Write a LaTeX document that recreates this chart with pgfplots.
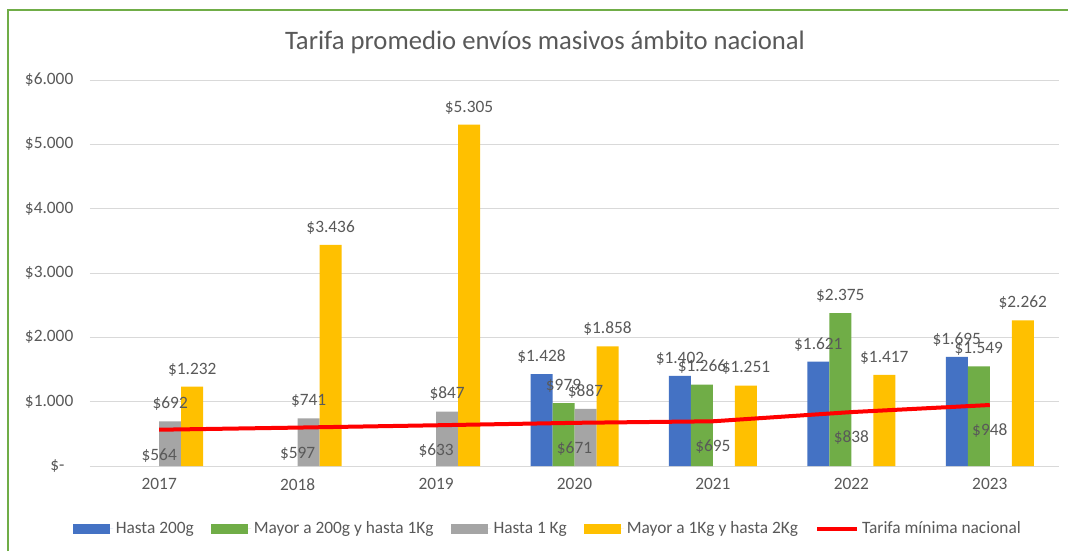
\documentclass[border=0pt]{standalone}
\usepackage{pgfplots}
\pgfplotsset{compat=1.18}
\usepackage{fontspec}
\setmainfont{Carlito}
\definecolor{tgray}{HTML}{595959}
\definecolor{cgrid}{HTML}{D9D9D9}
\definecolor{cblue}{HTML}{4472C4}
\definecolor{cgreen}{HTML}{70AD47}
\definecolor{cgray}{HTML}{A5A5A5}
\definecolor{cyellow}{HTML}{FFC000}
\definecolor{cred}{HTML}{FF0000}
\begin{document}
\begin{tikzpicture}
\useasboundingbox (0,0) rectangle (801pt,413.25pt);
\fill[white] (0,0) rectangle (801pt,413.25pt);
\draw[cgreen, line width=1.5pt] (6pt,0pt) -- (6pt,405.75pt) -- (802pt,405.75pt);
\node[text=tgray, font=\fontsize{20}{24}\selectfont] at (408.75pt,381.75pt) {Tarifa promedio envíos masivos ámbito nacional};
\pgfplotsset{
  barleg/.style={legend image code/.code={\path (0pt,0pt) -- (30pt,0pt); \fill[##1] (0pt,-3.5pt) rectangle (27.75pt,3.5pt);}},
}
\begin{axis}[
  at={(67.5pt,63.75pt)}, anchor=south west,
  scale only axis, width=726.75pt, height=289.5pt,
  xmin=-0.5, xmax=6.5, ymin=0, ymax=6000,
  xtick={0,...,6}, xticklabels={2017,2018,2019,2020,2021,2022,2023},
  ytick={0,1000,...,6000},
  yticklabels={\$-\phantom{0},\$1.000,\$2.000,\$3.000,\$4.000,\$5.000,\$6.000},
  major tick length=0pt,
  axis line style={draw=none},
  xmajorgrids=false, ymajorgrids=true, grid style={cgrid, line width=0.75pt},
  tick label style={text=tgray, font=\fontsize{13}{15}\selectfont},
  yticklabel style={xshift=-9pt},
  xticklabel style={yshift=-6pt},
  /pgf/number format/assume math mode=true,
  /pgf/number format/.cd, 1000 sep={.}, fixed, precision=0, /pgfplots/.cd,
  nodes near coords={\$\pgfmathprintnumber{\pgfplotspointmeta}},
  every node near coord/.append style={text=tgray, font=\fontsize{13}{15}\selectfont, inner sep=0pt, anchor=base, yshift=9.5pt},
  legend style={at={(0.473,-0.163)}, anchor=center, draw=none, fill=none,
    font=\fontsize{13}{15}\selectfont, text=tgray,
    /tikz/every even column/.append style={column sep=11pt}},
  legend columns=5,
  clip=false,
]
\addplot[draw=none, fill=cblue, ybar, bar width=16.5pt, bar shift=-24.75pt, barleg,
  every node near coord/.append style={xshift=-24.75pt}]
  coordinates {(3,1428) (4,1402) (5,1621) (6,1695)};
\addlegendentry{Hasta 200g}
\addplot[draw=none, fill=cgreen, ybar, bar width=16.5pt, bar shift=-8.25pt, barleg,
  every node near coord/.append style={xshift=-8.25pt}]
  coordinates {(3,979) (4,1266) (5,2375) (6,1549)};
\addlegendentry{Mayor a 200g y hasta 1Kg}
\addplot[draw=none, fill=cgray, ybar, bar width=16.5pt, bar shift=8.25pt, barleg,
  every node near coord/.append style={xshift=8.25pt}]
  coordinates {(0,692) (1,741) (2,847) (3,887)};
\addlegendentry{Hasta 1 Kg}
\addplot[draw=none, fill=cyellow, ybar, bar width=16.5pt, bar shift=24.75pt, barleg,
  every node near coord/.append style={xshift=24.75pt}]
  coordinates {(0,1232) (1,3436) (2,5305) (3,1858) (4,1251) (5,1417) (6,2262)};
\addlegendentry{Mayor a 1Kg y hasta 2Kg}
\addplot[cred, line width=3pt, sharp plot, mark=none,
  every node near coord/.append style={yshift=-32.35pt},
  legend image code/.code={\path (0pt,0pt) -- (30pt,0pt); \draw[cred, line width=3pt] (0pt,0pt) -- (27.75pt,0pt);}]
  coordinates {(0,564) (1,597) (2,633) (3,671) (4,695) (5,838) (6,948)};
\addlegendentry{Tarifa mínima nacional}
\end{axis}
\end{tikzpicture}
\end{document}
